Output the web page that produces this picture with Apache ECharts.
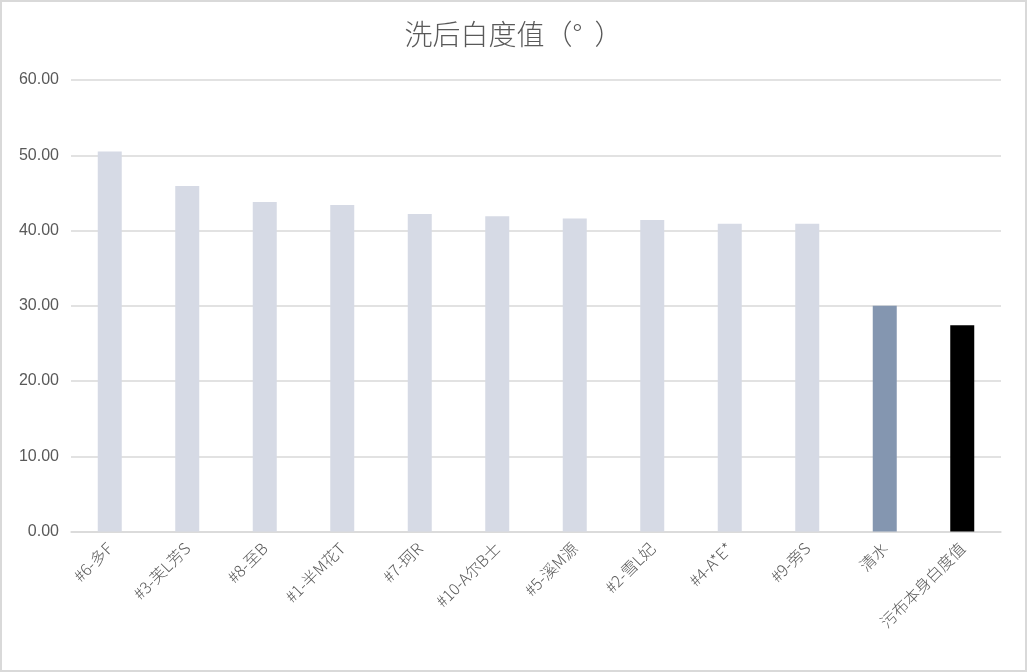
<!DOCTYPE html>
<html><head><meta charset="utf-8">
<script src="https://cdn.jsdelivr.net/npm/echarts@6/dist/echarts.min.js"></script>
<style>
html,body{margin:0;padding:0;background:#fff;}
#c{position:absolute;left:0;top:0;width:1023px;height:668px;border:2px solid #d9d9d9;}
</style></head>
<body><div id="c"></div>
<script>
const categories = ['#6-多F','#3-芙L芳S','#8-至B','#1-半M花T','#7-珂R','#10-A尔B士','#5-溪M源','#2-雪L妃','#4-A*E*','#9-旁S','清水','污布本身白度值'];
const values = [50.5, 45.9, 43.8, 43.4, 42.2, 41.9, 41.6, 41.4, 40.9, 40.9, 30.0, 27.4];
const barColors = ['#d6dae5','#d6dae5','#d6dae5','#d6dae5','#d6dae5','#d6dae5','#d6dae5','#d6dae5','#d6dae5','#d6dae5','#8496b0','#000000'];
const titleText = '洗后白度值（°  ）';

const chart = echarts.init(document.getElementById('c'));
chart.setOption({
  animation:false,
  title:{text:titleText,left:'center',top:13,textStyle:{fontFamily:'Noto Sans CJK SC',fontWeight:300,fontSize:28,color:'#595959'}},
  grid:{left:69,right:24,top:78,bottom:138.5},
  xAxis:{type:'category',data:categories,
    axisLine:{lineStyle:{color:'#d9d9d9',width:1.5}},axisTick:{show:false},
    axisLabel:{rotate:45,interval:0,fontSize:16,color:'#595959',fontFamily:'Noto Sans CJK SC',fontWeight:300,margin:14}},
  yAxis:{type:'value',min:0,max:60,interval:10,
    axisLine:{show:false},axisTick:{show:false},
    splitLine:{lineStyle:{color:'#d9d9d9',width:1.5}},
    axisLabel:{formatter:v=>v.toFixed(2),fontSize:16,color:'#595959',fontFamily:'Liberation Sans',margin:12}},
  series:[{type:'bar',barWidth:24,
    data:values.map((v,i)=>({value:v,itemStyle:{color:barColors[i]}}))}]
});
</script></body></html>
